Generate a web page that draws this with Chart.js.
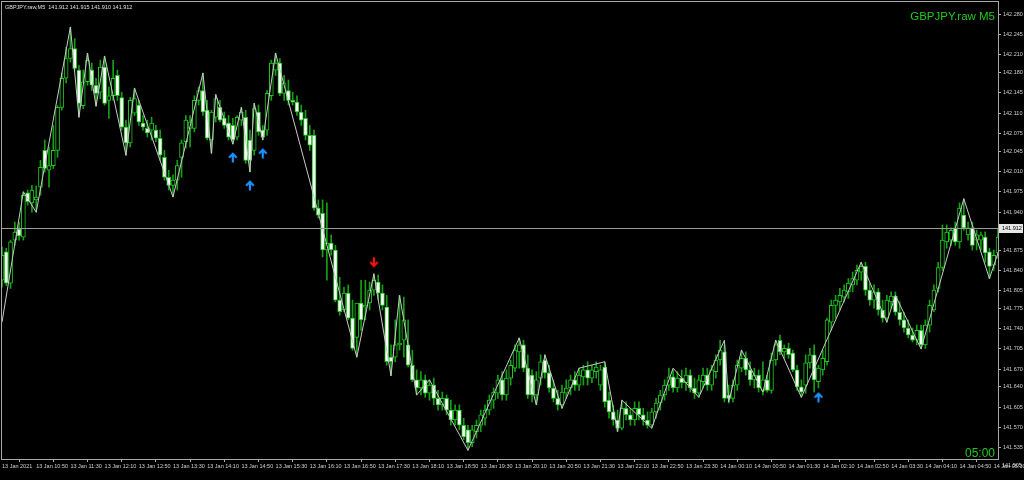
<!DOCTYPE html>
<html>
<head>
<meta charset="utf-8">
<script src="https://cdn.jsdelivr.net/npm/chart.js@4/dist/chart.umd.min.js"></script>
<style>
  html, body { margin: 0; padding: 0; background: #000; }
  #wrap { width: 1024px; height: 480px; }
</style>
</head>
<body>
<div id="wrap"><canvas id="grafico"></canvas></div>
<script>
// velas M5: [open, high, low, close]
const candles = [
  [141.823,141.880,141.811,141.866],[141.872,141.878,141.814,141.818],[141.818,141.892,141.809,141.889],[141.892,141.923,141.883,141.906],[141.911,141.923,141.892,141.899],
  [141.897,141.975,141.892,141.969],[141.973,141.978,141.952,141.958],[141.956,141.986,141.940,141.978],[141.961,141.985,141.940,141.966],[141.983,142.029,141.969,142.017],
  [142.046,142.064,142.009,142.015],[142.012,142.052,141.983,142.020],[142.020,142.089,142.015,142.046],[142.046,142.123,142.034,142.120],[142.120,142.179,142.115,142.170],
  [142.170,142.223,142.162,142.204],[142.204,142.258,142.198,142.221],[142.221,142.238,142.184,142.187],[142.184,142.192,142.103,142.127],[142.123,142.184,142.118,142.164],
  [142.164,142.213,142.158,142.201],[142.184,142.196,142.149,142.158],[142.158,142.170,142.122,142.144],[142.146,142.201,142.135,142.189],[142.189,142.208,142.124,142.127],
  [142.132,142.155,142.101,142.140],[142.140,142.201,142.132,142.170],[142.175,142.184,142.132,142.140],[142.137,142.146,142.081,142.086],[142.086,142.098,142.037,142.059],
  [142.059,142.137,142.052,142.132],[142.110,142.153,142.106,142.135],[142.124,142.132,142.089,142.095],[142.093,142.106,142.081,142.086],[142.084,142.098,142.069,142.076],
  [142.081,142.103,142.064,142.093],[142.081,142.089,142.061,142.067],[142.067,142.081,142.029,142.038],[142.034,142.046,141.995,142.000],[142.000,142.012,141.978,141.986],
  [141.986,142.004,141.966,141.995],[141.995,142.029,141.978,142.020],[142.034,142.064,142.000,142.059],[142.061,142.106,142.050,142.098],[142.084,142.106,142.052,142.095],
  [142.084,142.140,142.078,142.132],[142.132,142.155,142.124,142.149],[142.149,142.179,142.106,142.112],[142.115,142.132,142.064,142.067],[142.064,142.115,142.041,142.112],
  [142.103,142.142,142.095,142.135],[142.120,142.132,142.095,142.098],[142.101,142.112,142.084,142.089],[142.093,142.106,142.064,142.069],[142.089,142.101,142.057,142.064],
  [142.069,142.106,142.064,142.103],[142.098,142.120,142.089,142.112],[142.103,142.115,142.024,142.029],[142.064,142.081,142.009,142.029],[142.046,142.127,142.038,142.118],
  [142.112,142.124,142.072,142.078],[142.081,142.089,142.064,142.069],[142.081,142.149,142.072,142.144],[142.140,142.201,142.132,142.196],[142.184,142.213,142.175,142.196],
  [142.196,142.204,142.140,142.144],[142.144,142.175,142.132,142.162],[142.149,142.167,142.124,142.132],[142.132,142.146,142.124,142.129],[142.129,142.140,142.106,142.112],
  [142.112,142.124,142.089,142.098],[142.101,142.115,142.064,142.072],[142.072,142.089,142.046,142.055],[142.072,142.081,141.943,141.947],[141.947,141.961,141.930,141.935],
  [141.938,141.961,141.863,141.875],[141.875,141.956,141.823,141.887],[141.887,141.901,141.866,141.875],[141.875,141.883,141.786,141.789],[141.789,141.828,141.763,141.769],
  [141.772,141.811,141.769,141.801],[141.801,141.815,141.755,141.758],[141.758,141.789,141.703,141.706],[141.725,141.780,141.691,141.784],[141.784,141.823,141.737,141.755],
  [141.777,141.823,141.755,141.780],[141.784,141.820,141.772,141.806],[141.806,141.834,141.797,141.823],[141.820,141.832,141.789,141.801],[141.801,141.815,141.772,141.780],
  [141.777,141.797,141.677,141.683],[141.691,141.712,141.659,141.683],[141.691,141.755,141.683,141.712],[141.712,141.797,141.703,141.715],[141.720,141.794,141.691,141.755],
  [141.712,141.755,141.674,141.677],[141.677,141.703,141.649,141.652],[141.652,141.669,141.626,141.638],[141.638,141.666,141.626,141.652],[141.652,141.660,141.622,141.629],
  [141.629,141.652,141.617,141.643],[141.643,141.655,141.609,141.620],[141.620,141.634,141.600,141.609],[141.609,141.631,141.600,141.620],[141.620,141.626,141.592,141.600],
  [141.600,141.617,141.574,141.583],[141.583,141.609,141.574,141.600],[141.600,141.609,141.566,141.574],[141.574,141.586,141.549,141.554],[141.566,141.574,141.531,141.544],
  [141.544,141.574,141.537,141.566],[141.563,141.583,141.552,141.574],[141.574,141.600,141.563,141.592],[141.586,141.609,141.574,141.600],[141.600,141.626,141.592,141.617],
  [141.617,141.638,141.603,141.631],[141.629,141.660,141.620,141.652],[141.652,141.666,141.617,141.626],[141.626,141.669,141.617,141.655],[141.655,141.686,141.643,141.677],
  [141.672,141.712,141.666,141.703],[141.700,141.724,141.672,141.712],[141.712,141.720,141.666,141.672],[141.672,141.695,141.620,141.626],[141.660,141.669,141.614,141.626],
  [141.626,141.666,141.609,141.652],[141.655,141.695,141.643,141.683],[141.686,141.695,141.655,141.664],[141.664,141.677,141.631,141.638],[141.638,141.652,141.614,141.620],
  [141.620,141.634,141.600,141.609],[141.609,141.643,141.603,141.631],[141.629,141.652,141.620,141.638],[141.638,141.660,141.626,141.652],[141.652,141.666,141.634,141.643],
  [141.643,141.672,141.634,141.660],[141.657,141.677,141.643,141.669],[141.669,141.683,141.643,141.655],[141.655,141.677,141.647,141.669],[141.666,141.683,141.655,141.674],
  [141.643,141.677,141.634,141.669],[141.674,141.683,141.605,141.614],[141.617,141.631,141.586,141.597],[141.597,141.609,141.574,141.583],[141.583,141.600,141.563,141.569],
  [141.569,141.617,141.566,141.603],[141.603,141.614,141.583,141.592],[141.592,141.603,141.574,141.583],[141.583,141.614,141.574,141.603],[141.603,141.614,141.583,141.592],
  [141.592,141.603,141.574,141.583],[141.583,141.597,141.569,141.574],[141.574,141.603,141.569,141.597],[141.597,141.620,141.586,141.612],[141.612,141.634,141.600,141.626],
  [141.626,141.652,141.617,141.643],[141.643,141.672,141.634,141.657],[141.657,141.669,141.631,141.638],[141.638,141.666,141.631,141.655],[141.655,141.669,141.638,141.647],
  [141.647,141.672,141.634,141.660],[141.660,141.669,141.631,141.638],[141.638,141.655,141.620,141.629],[141.629,141.660,141.622,141.652],[141.649,141.672,141.638,141.660],
  [141.660,141.672,141.634,141.643],[141.643,141.677,141.634,141.669],[141.666,141.695,141.655,141.686],[141.686,141.720,141.677,141.703],[141.700,141.712,141.614,141.620],
  [141.626,141.643,141.612,141.620],[141.620,141.652,141.614,141.643],[141.643,141.686,141.634,141.677],[141.672,141.703,141.666,141.689],[141.689,141.700,141.660,141.669],
  [141.669,141.683,141.643,141.652],[141.652,141.672,141.638,141.660],[141.660,141.669,141.631,141.638],[141.634,141.683,141.626,141.652],[141.652,141.660,141.631,141.634],
  [141.634,141.698,141.629,141.686],[141.686,141.720,141.677,141.712],[141.720,141.729,141.695,141.700],[141.700,141.712,141.689,141.706],[141.706,141.715,141.689,141.695],
  [141.698,141.703,141.666,141.669],[141.669,141.677,141.634,141.640],[141.640,141.652,141.622,141.631],[141.643,141.695,141.629,141.681],[141.681,141.706,141.672,141.695],
  [141.695,141.712,141.631,141.652],[141.649,141.677,141.638,141.672],[141.669,141.703,141.660,141.689],[141.683,141.758,141.677,141.755],[141.751,141.789,141.737,141.780],
  [141.780,141.797,141.758,141.789],[141.786,141.809,141.772,141.797],[141.794,141.815,141.786,141.806],[141.803,141.826,141.792,141.818],[141.815,141.837,141.803,141.826],
  [141.823,141.849,141.815,141.840],[141.837,141.854,141.823,141.847],[141.847,141.854,141.797,141.806],[141.806,141.818,141.780,141.789],[141.789,141.815,141.775,141.803],
  [141.803,141.809,141.763,141.772],[141.772,141.789,141.751,141.758],[141.758,141.797,141.751,141.789],[141.786,141.803,141.775,141.796],[141.796,141.803,141.763,141.768],
  [141.768,141.786,141.746,141.755],[141.755,141.768,141.734,141.741],[141.741,141.755,141.724,141.729],[141.729,141.741,141.717,141.720],[141.720,141.746,141.712,141.737],
  [141.737,141.746,141.705,141.712],[141.712,141.755,141.706,141.746],[141.746,141.789,141.734,141.780],[141.772,141.815,141.769,141.806],[141.809,141.854,141.803,141.845],
  [141.845,141.918,141.840,141.892],[141.889,141.918,141.878,141.906],[141.892,141.913,141.883,141.909],[141.913,141.923,141.883,141.889],[141.889,141.956,141.878,141.947],
  [141.935,141.963,141.909,141.913],[141.901,141.923,141.892,141.913],[141.913,141.923,141.875,141.883],[141.892,141.909,141.875,141.901],[141.892,141.906,141.875,141.901],
  [141.897,141.906,141.854,141.870],[141.872,141.878,141.826,141.847],[141.849,141.875,141.840,141.866],[141.870,141.911,141.861,141.897]
];

// etiquetas del eje temporal (una cada 8 velas)
const timeTicks = ['13 Jan 2021','13 Jan 10:50','13 Jan 11:30','13 Jan 12:10','13 Jan 12:50','13 Jan 13:30','13 Jan 14:10','13 Jan 14:50',
  '13 Jan 15:30','13 Jan 16:10','13 Jan 16:50','13 Jan 17:30','13 Jan 18:10','13 Jan 18:50','13 Jan 19:30','13 Jan 20:10','13 Jan 20:50',
  '13 Jan 21:30','13 Jan 22:10','13 Jan 22:50','13 Jan 23:30','14 Jan 00:10','14 Jan 00:50','14 Jan 01:30','14 Jan 02:10','14 Jan 02:50',
  '14 Jan 03:30','14 Jan 04:10','14 Jan 04:50','14 Jan 05:30'];
const tickEvery = 8;

const priceTicks = [142.280,142.245,142.210,142.180,142.145,142.110,142.075,142.045,142.010,141.975,141.940,
  141.875,141.840,141.805,141.775,141.740,141.705,141.670,141.640,141.605,141.570,141.535];
const lastPrice = 141.912;
const lowLabel = 141.505;

// ZigZag: índice de vela y precio del pivote
const zigzagIdx = [0,5,8,16,18,20,22,24,29,31,40,47,49,50,54,56,58,59,61,64,83,87,91,93,97,100,109,121,125,127,131,135,141,144,145,152,157,163,169,170,173,178,181,187,201,207,209,215,225,231,233];
const zigzagPrice = [141.751,141.975,141.940,142.258,142.103,142.213,142.122,142.208,142.038,142.153,141.966,142.179,142.041,142.142,
  142.057,142.120,142.009,142.127,142.064,142.213,141.691,141.834,141.659,141.797,141.626,141.652,141.531,141.724,141.609,141.695,
  141.603,141.672,141.683,141.563,141.617,141.569,141.672,141.622,141.720,141.614,141.703,141.631,141.720,141.622,141.854,141.751,
  141.797,141.705,141.963,141.826,141.870];

// flechas de señal
const upArrowIdx = [54, 58, 61, 191];
const upArrowPrice = [142.034,141.986,142.041, 141.622];
const downArrowIdx = [87];
const downArrowPrice = [141.854];

const verde = '#22c822';
const fuente = 'Liberation Sans';

function crearFlecha(color, haciaArriba) {
    const c = document.createElement('canvas');
    c.width = 10; c.height = 11;
    const g = c.getContext('2d');
    if (!haciaArriba) { g.translate(0, 11); g.scale(1, -1); }
    g.strokeStyle = color;
    g.lineWidth = 2.2;
    g.beginPath();
    g.moveTo(5, 10.5); g.lineTo(5, 2);
    g.moveTo(1.2, 5.8); g.lineTo(5, 1.8); g.lineTo(8.8, 5.8);
    g.stroke();
    return c;
}

const porIndice = (idx, vals) => {
    const arr = new Array(candles.length).fill(null);
    idx.forEach((i, k) => { arr[i] = vals[k]; });
    return arr;
};

const marcoYTextos = {
    id: 'marcoYTextos',
    afterDatasetsDraw(chart) {
        const { ctx, chartArea: a, scales } = chart;
        const y = Math.round(scales.y.getPixelForValue(lastPrice)) + 0.5;
        ctx.save();
        ctx.strokeStyle = '#9a9a9a';
        ctx.lineWidth = 1;
        ctx.beginPath();
        ctx.moveTo(a.left, y); ctx.lineTo(a.right, y);
        ctx.stroke();
        ctx.restore();
    },
    afterDraw(chart) {
        const { ctx, chartArea: a, scales } = chart;
        ctx.save();
        ctx.strokeStyle = '#a8a8a8';
        ctx.lineWidth = 1;
        ctx.strokeRect(a.left - 0.5, a.top - 0.5, a.right - a.left + 1, a.bottom - a.top + 1);

        ctx.fillStyle = '#e0e0e0';
        ctx.font = `5.5px "${fuente}"`;
        ctx.textBaseline = 'middle';
        ctx.textAlign = 'left';
        ctx.fillText('GBPJPY.raw,M5  141.912 141.915 141.910 141.912', 5, 7);

        // etiqueta del precio actual
        const y = Math.round(scales.y.getPixelForValue(lastPrice));
        ctx.fillStyle = '#e6e6e6';
        ctx.fillRect(a.right + 1, y - 4, 24, 9);
        ctx.fillStyle = '#000';
        ctx.fillText(lastPrice.toFixed(3), a.right + 4, y + 0.5);

        ctx.fillStyle = '#d0d0d0';
        ctx.fillText(lowLabel.toFixed(3), a.right + 4, scales.y.getPixelForValue(lowLabel));

        ctx.fillStyle = verde;
        ctx.textAlign = 'right';
        ctx.textBaseline = 'alphabetic';
        ctx.font = `11.5px "${fuente}"`;
        ctx.fillText('GBPJPY.raw M5', a.right - 3, 20);
        ctx.font = `12px "${fuente}"`;
        ctx.fillText('05:00', a.right - 3, a.bottom - 2);
        ctx.restore();
    }
};

new Chart(document.getElementById('grafico'), {
    type: 'bar',
    data: {
        labels: candles.map((_, i) => i),
        datasets: [
            {
                type: 'line',
                data: porIndice(upArrowIdx, upArrowPrice),
                showLine: false,
                pointStyle: crearFlecha('#1e90ff', true),
                pointRadius: 5,
            },
            {
                type: 'line',
                data: porIndice(downArrowIdx, downArrowPrice),
                showLine: false,
                pointStyle: crearFlecha('#ff1010', false),
                pointRadius: 5,
            },
            {
                type: 'line',
                data: porIndice(zigzagIdx, zigzagPrice),
                spanGaps: true,
                borderColor: '#c8c8c8',
                borderWidth: 1,
                pointRadius: 0,
                tension: 0,
            },
            {
                data: candles.map(c => [c[0], c[3]]),
                backgroundColor: candles.map(c => (c[3] >= c[0] ? '#000000' : '#ffffff')),
                borderColor: verde,
                borderWidth: 1,
                borderSkipped: false,
                barThickness: 4,
                minBarLength: 1,
                grouped: false,
            },
            {
                data: candles.map(c => [c[2], c[1]]),
                backgroundColor: '#16a016',
                borderWidth: 0,
                barThickness: 1,
                grouped: false,
            },
        ],
    },
    options: {
        responsive: true,
        maintainAspectRatio: false,
        animation: false,
        layout: { autoPadding: false, padding: { left: 2, top: 2, right: 0, bottom: 0 } },
        plugins: {
            legend: { display: false },
            tooltip: { enabled: false },
        },
        scales: {
            x: {
                offset: false,
                grid: { display: true, drawOnChartArea: false, drawTicks: true, tickLength: 3, color: '#b0b0b0' },
                border: { display: true, color: '#b0b0b0' },
                ticks: {
                    autoSkip: false,
                    maxRotation: 0,
                    minRotation: 0,
                    align: 'start',
                    padding: 1,
                    color: '#d0d0d0',
                    font: { size: 5.5, family: fuente },
                    callback: (v, i) => (i % tickEvery === 0 ? timeTicks[i / tickEvery] : null),
                },
                afterFit: (scale) => {
                    scale.height = 21;
                    scale.paddingLeft = 0;
                    scale.paddingRight = 0;
                },
            },
            y: {
                position: 'right',
                min: 141.516,
                max: 142.301,
                afterBuildTicks: (scale) => {
                    scale.ticks = priceTicks.map(v => ({ value: v }));
                },
                grid: { display: true, drawOnChartArea: false, drawTicks: true, tickLength: 3, color: '#b0b0b0' },
                border: { display: true, color: '#b0b0b0' },
                ticks: {
                    padding: 2,
                    color: '#d0d0d0',
                    font: { size: 5.5, family: fuente },
                    callback: v => Number(v).toFixed(3),
                },
                afterFit: (scale) => {
                    scale.width = 26;
                    scale.paddingTop = 0;
                    scale.paddingBottom = 0;
                },
            },
        },
    },
    plugins: [marcoYTextos],
});
</script>
</body>
</html>
